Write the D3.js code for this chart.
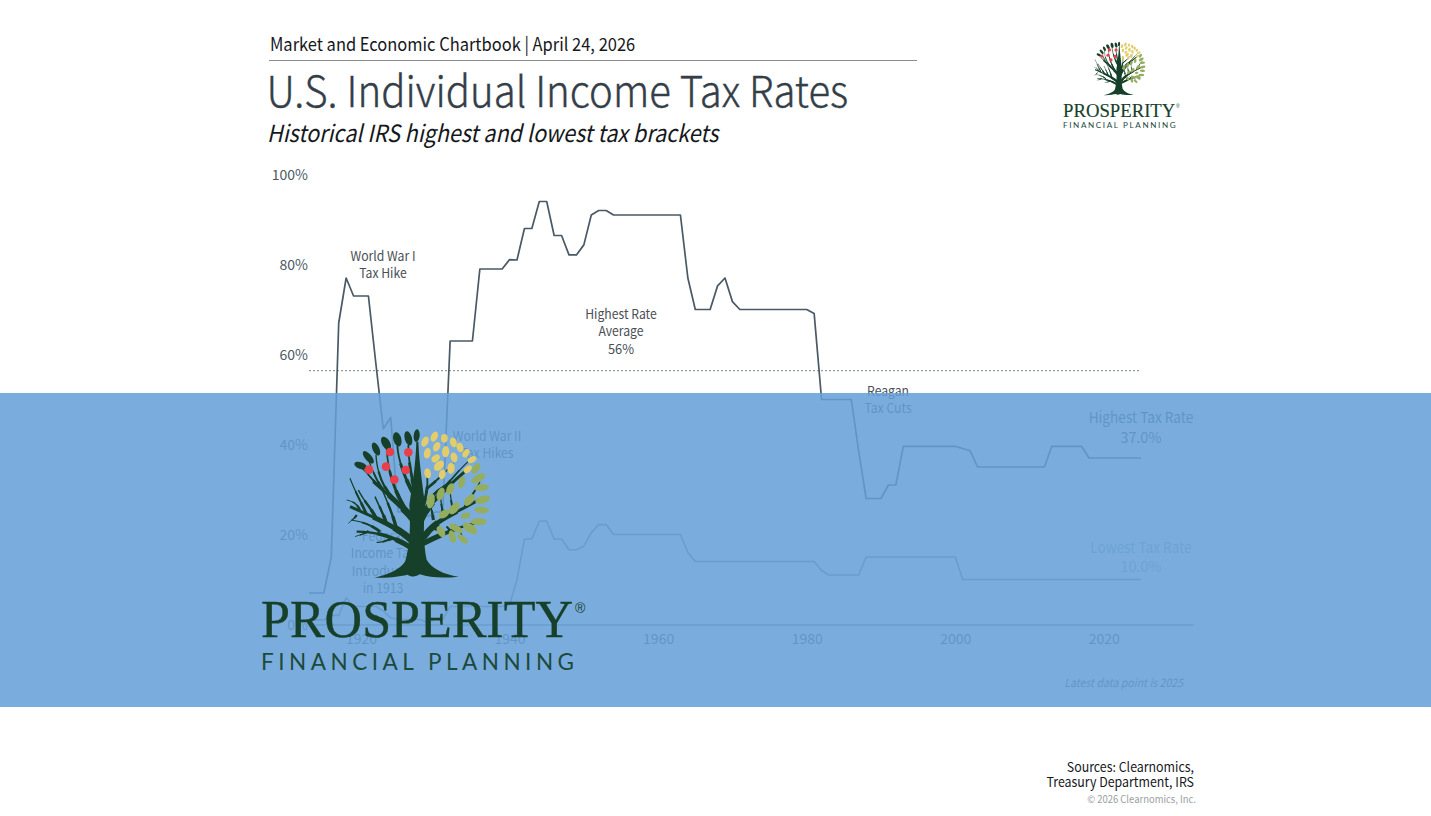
<!DOCTYPE html>
<html>
<head>
<meta charset="utf-8">
<script src="https://cdn.jsdelivr.net/npm/d3@7"></script>
<style>
body { margin: 0; background: #fff; }
svg { display: block; }
text { font-family: "Noto Sans CJK SC", "Noto Sans", sans-serif; }
.tick line { display: none; }
</style>
</head>
<body>
<div class="container"></div>
<script>
var firstYear = 1913;
var lastAxisYear = 2032;
var yearTicks = [1920, 1940, 1960, 1980, 2000, 2020];
var rateTicks = [0, 20, 40, 60, 80, 100];
var averageRate = 56.4;

var highestRate = [
    7, 7, 7, 15, 67, 77, 73,
    73, 73, 58, 43.5, 46, 25, 25, 25, 25, 24,
    25, 25, 63, 63, 63, 63, 79, 79, 79, 79,
    81.1, 81, 88, 88, 94, 94, 86.45, 86.45, 82.13, 82.13,
    84.36, 91, 92, 92, 91, 91, 91, 91, 91, 91,
    91, 91, 91, 91, 77, 70, 70, 70, 75.25, 77,
    71.75, 70, 70, 70, 70, 70, 70, 70, 70, 70,
    70, 69.13, 50, 50, 50, 50, 50, 38.5, 28, 28,
    28, 31, 31, 39.6, 39.6, 39.6, 39.6, 39.6, 39.6, 39.6,
    39.6, 39.1, 38.6, 35, 35, 35, 35, 35, 35, 35,
    35, 35, 35, 39.6, 39.6, 39.6, 39.6, 39.6, 37, 37,
    37, 37, 37, 37, 37, 37
];
var lowestRate = [
    1, 1, 1, 2, 2, 6, 4,
    4, 4, 4, 3, 1.5, 1.125, 1.125, 1.125, 1.125, 0.375,
    1.125, 1.125, 4, 4, 4, 4, 4, 4, 4, 4,
    4.4, 10, 19, 19, 23, 23, 19, 19, 16.6, 16.6,
    17.4, 20.4, 22.2, 22.2, 20, 20, 20, 20, 20, 20,
    20, 20, 20, 20, 16, 14, 14, 14, 14, 14,
    14, 14, 14, 14, 14, 14, 14, 14, 14, 14,
    14, 14, 12, 11, 11, 11, 11, 11, 15, 15,
    15, 15, 15, 15, 15, 15, 15, 15, 15, 15,
    15, 10, 10, 10, 10, 10, 10, 10, 10, 10,
    10, 10, 10, 10, 10, 10, 10, 10, 10, 10,
    10, 10, 10, 10, 10, 10
];

var width = 1431;
var height = 816;

var XScale = d3.scaleLinear()
    .domain([firstYear, lastAxisYear])
    .range([309, 1193]);

var YScale = d3.scaleLinear()
    .domain([0, 100])
    .range([624.5, 174.5]);

var line = d3.line()
    .x(function(d, index) { return XScale(firstYear + index); })
    .y(function(d) { return YScale(d); });

var translate = function(x, y) {
    return 'translate(' + x + ',' + y + ')';
};

var svg = d3.select('.container').append('svg')
    .attr('width', width)
    .attr('height', height);

// multi-line label, one baseline per line. Letters are squeezed because the
// installed font runs wider than the one in the picture, digits are not
var addLabel = function(parent, lines, x, baselines, size, color, anchor, style) {
    lines.forEach(function(s, i) {
        var squeeze = /[a-z]/i.test(s) ? 0.91 : 0.96;
        parent.append('text')
            .attr('transform', translate(x, baselines[i]) + ' scale(' + squeeze + ',1)')
            .attr('text-anchor', anchor || 'middle')
            .attr('font-size', size)
            .attr('font-style', style || 'normal')
            .attr('fill', color)
            .text(s);
    });
};

// header
addLabel(svg, ['Market and Economic Chartbook | April 24, 2026'], 270, [51], 18.1, '#15181b', 'start');
svg.append('line').attr('x1', 269).attr('x2', 917).attr('y1', 60.5).attr('y2', 60.5)
    .attr('stroke', '#8a8d90').attr('stroke-width', 1);
svg.append('text')
    .attr('transform', translate(266.5, 107) + ' scale(0.945,1)')
    .attr('font-size', 42.5).attr('font-weight', 300)
    .attr('fill', '#343e48').attr('stroke', '#343e48').attr('stroke-width', 0.4)
    .text('U.S. Individual Income Tax Rates');
addLabel(svg, ['Historical IRS highest and lowest tax brackets'], 267, [142], 23.7, '#15181b', 'start', 'italic');

// axes
var xAxis = d3.axisBottom(XScale).tickValues(yearTicks).tickSize(0).tickPadding(10).tickFormat(d3.format('d'));
var yAxis = d3.axisLeft(YScale).tickValues(rateTicks).tickSize(0).tickPadding(0).tickFormat(function(d) { return d + '%'; });

var gx = svg.append('g').attr('transform', translate(0, 624.5)).call(xAxis);
gx.select('.domain').attr('stroke', '#3f5260').attr('stroke-width', 1);
gx.selectAll('text').attr('font-size', 14).attr('fill', '#4d5963');

var gy = svg.append('g').attr('transform', translate(308, 0.7)).call(yAxis);
gy.select('.domain').remove();
gy.selectAll('text').attr('font-size', 14).attr('fill', '#4d5963');

// average
svg.append('line')
    .attr('x1', XScale(firstYear)).attr('x2', XScale(2025))
    .attr('y1', YScale(averageRate)).attr('y2', YScale(averageRate))
    .attr('stroke', '#78848d').attr('stroke-width', 1).attr('stroke-dasharray', '2,2');

// series
svg.append('path').attr('d', line(lowestRate)).attr('fill', 'none')
    .attr('stroke', '#7f8d98').attr('stroke-width', 1.6).attr('stroke-linejoin', 'round');
svg.append('path').attr('d', line(highestRate)).attr('fill', 'none')
    .attr('stroke', '#4a5965').attr('stroke-width', 1.7).attr('stroke-linejoin', 'round');

// annotations
var noteColor = '#4a4f55';
addLabel(svg, ['World War I', 'Tax Hike'], 383, [261, 278], 13.4, noteColor);
addLabel(svg, ['Highest Rate', 'Average', '56%'], 621, [319, 336, 354], 13.4, noteColor);
addLabel(svg, ['Reagan', 'Tax Cuts'], 888, [396, 413], 13.4, noteColor);
addLabel(svg, ['World War II', 'Tax Hikes'], 487, [441, 458], 13.4, noteColor);
addLabel(svg, ['Federal', 'Income Tax', 'Introduced', 'in 1913'], 383, [541, 558, 576, 593], 13.4, noteColor);
addLabel(svg, ['Highest Tax Rate', '37.0%'], 1141, [423, 443], 15, '#44525e');
addLabel(svg, ['Lowest Tax Rate', '10.0%'], 1141, [553, 572], 15, '#a9b3ba');
addLabel(svg, ['Latest data point is 2025'], 1183, [687], 11.6, '#4f5c66', 'end', 'italic');

// footer
addLabel(svg, ['Sources: Clearnomics,', 'Treasury Department, IRS'], 1194, [772, 787], 13.6, '#15181b', 'end');
addLabel(svg, ['\u00a9 2026 Clearnomics, Inc.'], 1196, [803], 10.4, '#9a9ea3', 'end');

// translucent band across the chart
svg.append('rect').attr('x', 0).attr('y', 393).attr('width', width).attr('height', 314)
    .attr('fill', 'rgb(100,160,215)').attr('fill-opacity', 0.86);

// logo, drawn at the size of the big one, coordinates of the tree are 3x
var treeDark = '#17402a';
var trunkShape = 'M229 50 C227 120 217 180 208 240 C212 300 210 360 196 408 C181 435 140 450 103 458 C150 460 180 453 203 449 C215 458 230 454 240 448 C270 458 310 460 356 455 C310 448 274 430 260 404 C250 360 250 300 255 240 C248 180 238 120 235 50 Z';
// [path from base to tip, width at the base]
var branches = [
    ['M225 290 C195 250 150 215 100 170', 21],
    ['M228 210 C215 160 205 110 205 60', 12],
    ['M222 210 C195 160 175 110 172 62', 12],
    ['M195 250 C165 200 145 150 140 72', 11],
    ['M160 220 C130 190 110 140 108 90', 9],
    ['M130 195 C110 170 100 140 88 112', 8],
    ['M115 180 C95 165 85 145 65 130', 7],
    ['M218 350 C180 310 120 285 30 245', 20],
    ['M170 315 C160 270 145 240 125 190', 10],
    ['M140 298 C130 265 120 250 105 215', 10],
    ['M110 283 C95 250 75 235 55 195', 10],
    ['M80 268 C65 235 45 200 30 160', 8],
    ['M60 255 C50 235 40 230 20 225', 6],
    ['M216 370 C170 340 120 320 50 320', 15],
    ['M160 340 C140 345 125 355 110 352', 8],
    ['M120 320 C95 300 65 290 35 285', 8],
    ['M85 318 C70 330 55 330 45 335', 6],
    ['M50 270 C45 280 35 285 25 295', 6],
    ['M245 250 C255 230 265 190 262 150', 12],
    ['M240 290 C265 230 320 190 385 130', 20],
    ['M280 210 C300 190 320 175 345 170', 8],
    ['M305 195 C330 170 360 130 390 105', 7],
    ['M262 190 C285 170 310 150 340 115', 8],
    ['M248 340 C290 280 340 270 415 225', 19],
    ['M280 285 C278 265 274 255 272 240', 9],
    ['M310 270 C305 245 303 235 302 218', 8],
    ['M340 262 C335 240 333 225 331 205', 8],
    ['M375 245 C390 220 410 190 420 170', 8],
    ['M250 355 C300 330 370 300 420 292', 16],
    ['M280 310 C295 315 300 322 305 328', 7],
    ['M320 305 C335 320 340 330 345 340', 6],
    ['M345 300 C360 315 365 330 370 340', 6]
];
var darkLeaves = [[230, 32, 9, 19, 5], [205, 40, 11, 22, -15], [172, 43, 12, 22, -15], [138, 55, 12, 22, -30], [108, 72, 10, 21, -25], [85, 97, 10, 23, -40], [62, 122, 10, 20, -70]];
var apples = [[87, 134], [150, 81], [205, 82], [138, 125], [197, 135], [163, 164]];
var yellowLeaves = [[255, 50, 10, 16, 25], [283, 35, 10, 16, 25], [313, 40, 10, 13, 0], [340, 52, 10, 15, -15], [360, 67, 10, 14, -20], [378, 85, 9, 14, 30], [396, 104, 9, 14, 60], [262, 85, 10, 16, 10], [290, 65, 10, 15, 25], [317, 80, 11, 17, 5], [342, 97, 10, 15, -15], [287, 100, 10, 14, 50], [297, 122, 12, 18, 45], [333, 130, 11, 17, 5], [263, 145, 10, 15, -10], [307, 148, 10, 15, 15], [383, 133, 9, 14, 50]];
var greenLeaves = [[408, 130, 10, 18, 35], [415, 160, 11, 23, 60], [425, 188, 10, 22, 85], [428, 224, 11, 23, 75], [425, 255, 10, 22, 95], [416, 290, 11, 24, 90], [390, 310, 13, 25, 125], [348, 310, 10, 23, 120], [303, 320, 11, 18, 150], [337, 335, 10, 20, 165], [368, 342, 9, 19, 130], [272, 228, 12, 23, 10], [302, 207, 11, 20, 20], [331, 192, 11, 18, 25], [365, 172, 10, 18, 15], [388, 225, 12, 21, 40], [343, 250, 12, 21, 40], [312, 267, 11, 18, 55], [377, 272, 9, 15, 75]];

var drawLogo = function(parent) {
    var tree = parent.append('g').attr('transform', translate(340, 425) + ' scale(0.3333)');
    var leaves = function(list, color) {
        tree.selectAll(null).data(list).enter().append('ellipse')
            .attr('rx', function(d) { return d[2]; })
            .attr('ry', function(d) { return d[3]; })
            .attr('transform', function(d) { return translate(d[0], d[1]) + ' rotate(' + d[4] + ')'; })
            .attr('fill', color);
    };
    tree.append('path').attr('d', trunkShape).attr('fill', treeDark);
    // taper: thin along the whole branch, thicker over the first parts
    [[1, 0.45, '100 100'], [1, 0.72, '65 100'], [1, 1, '32 100']].forEach(function(step) {
        tree.selectAll(null).data(branches).enter().append('path')
            .attr('d', function(d) { return d[0]; })
            .attr('pathLength', 100)
            .attr('fill', 'none').attr('stroke', treeDark)
            .attr('stroke-width', function(d) { return d[1] * step[1]; })
            .attr('stroke-dasharray', step[2]);
    });
    leaves(darkLeaves, treeDark);
    leaves(yellowLeaves, '#e2cd6a');
    leaves(greenLeaves, '#95ad5e');
    tree.selectAll(null).data(apples).enter().append('circle')
        .attr('cx', function(d) { return d[0]; })
        .attr('cy', function(d) { return d[1]; })
        .attr('r', 13)
        .attr('fill', '#e8404a');

    parent.append('text').attr('x', 261).attr('y', 637)
        .attr('font-size', 52).attr('textLength', 312).attr('lengthAdjust', 'spacing')
        .attr('fill', treeDark).attr('stroke', treeDark).attr('stroke-width', 0.4)
        .style('font-family', '"Liberation Serif", serif')
        .text('PROSPERITY');
    parent.append('text').attr('x', 575).attr('y', 613)
        .attr('font-size', 14).attr('fill', treeDark).style('font-family', '"Liberation Sans", sans-serif')
        .text('\u00ae');
    parent.append('text').attr('x', 261).attr('y', 669.5)
        .attr('font-size', 22.5).attr('textLength', 313).attr('lengthAdjust', 'spacing')
        .attr('fill', '#1d4a3c').style('font-family', 'Lato, sans-serif')
        .text('FINANCIAL PLANNING');
};

drawLogo(svg.append('g'));
// small copy at the top right
drawLogo(svg.append('g').attr('transform', translate(1063, 42) + ' scale(0.36) ' + translate(-261, -430)));
</script>
</body>
</html>
